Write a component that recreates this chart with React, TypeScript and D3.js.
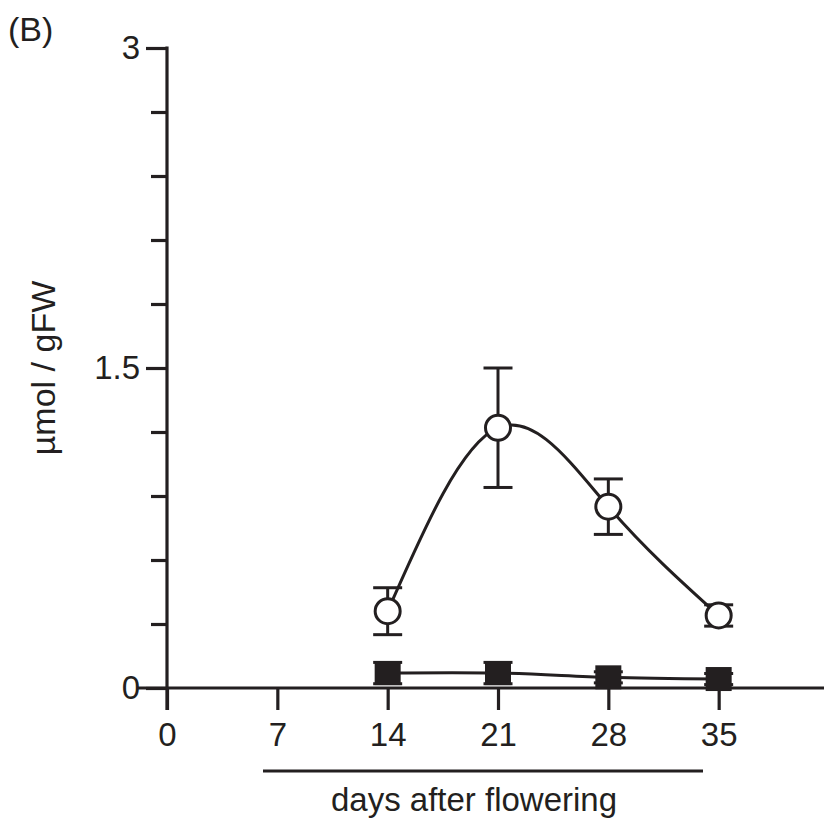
import React, { useEffect, useRef } from 'react';
import * as d3 from 'd3';

const days = [14, 21, 28, 35];
const xTickValues = [0, 7, 14, 21, 28, 35];
const openMean = [0.36, 1.22, 0.85, 0.34];
const openErr = [0.11, 0.28, 0.13, 0.05];
const filledMean = [0.07, 0.07, 0.05, 0.042];
const filledErr = [0.05, 0.05, 0.026, 0.026];
const yMinorTicks = [0.3, 0.6, 0.9, 1.2, 1.8, 2.1, 2.4, 2.7];
const yMajorTicks = [0, 1.5, 3];

const INK = '#231f20';
const FONT = '"Liberation Sans", Arial, Helvetica, sans-serif';

const App: React.FC = () => {
  const ref = useRef<SVGSVGElement>(null);

  useEffect(() => {
    if (!ref.current) return;
    const width = 824, height = 820;
    const svg = d3.select(ref.current);
    svg.selectAll('*').remove();
    svg.attr('width', width).attr('height', height);

    const x = d3.scaleLinear().domain([0, 42]).range([167, 829]);
    const y = d3.scaleLinear().domain([0, 3]).range([688, 48]);

    // y axis
    const yMinor = svg.append('g')
      .attr('transform', `translate(${x(0)},0)`)
      .call(d3.axisLeft(y).tickValues(yMinorTicks).tickSize(16).tickFormat(() => ''));
    yMinor.select('.domain').remove();

    const yMajor = svg.append('g')
      .attr('transform', `translate(${x(0)},0)`)
      .call(d3.axisLeft(y).tickValues(yMajorTicks).tickSize(21).tickPadding(6)
        .tickFormat(d => String(d)));
    yMajor.select('.domain').remove();

    svg.append('line')
      .attr('x1', x(0)).attr('x2', x(0))
      .attr('y1', y(3) - 1.5).attr('y2', y(0) + 22)
      .attr('stroke', INK).attr('stroke-width', 3.2);

    // x axis
    const xAxis = svg.append('g')
      .attr('transform', `translate(0,${y(0)})`)
      .call(d3.axisBottom(x).tickValues(xTickValues).tickSize(22).tickPadding(12.5)
        .tickFormat(d => String(d)));
    xAxis.select('.domain').remove();
    svg.append('line')
      .attr('x1', x(0) - 30).attr('x2', width)
      .attr('y1', y(0)).attr('y2', y(0))
      .attr('stroke', INK).attr('stroke-width', 3.2);

    svg.selectAll('.tick line').attr('stroke', INK).attr('stroke-width', 3.2);
    svg.selectAll('.tick text')
      .attr('fill', INK)
      .style('font-family', FONT)
      .style('font-size', '33px');

    // curves
    const line = d3.line<number>()
      .x((_, i) => x(days[i]))
      .y(d => y(d))
      .curve(d3.curveNatural);

    svg.append('path').attr('d', line(openMean) ?? '')
      .attr('fill', 'none').attr('stroke', INK).attr('stroke-width', 3);
    svg.append('path').attr('d', line(filledMean) ?? '')
      .attr('fill', 'none').attr('stroke', INK).attr('stroke-width', 3);

    // error bars
    const errBars = (mean: number[], err: number[]) => {
      const g = svg.append('g').attr('stroke', INK).attr('stroke-width', 3);
      mean.forEach((m, i) => {
        const cx = x(days[i]);
        g.append('line').attr('x1', cx).attr('x2', cx)
          .attr('y1', y(m + err[i])).attr('y2', y(m - err[i]));
        [m + err[i], m - err[i]].forEach(v => {
          g.append('line').attr('x1', cx - 14.5).attr('x2', cx + 14.5)
            .attr('y1', y(v)).attr('y2', y(v));
        });
      });
    };
    errBars(openMean, openErr);
    errBars(filledMean, filledErr);

    // markers
    svg.append('g').selectAll('circle')
      .data(openMean)
      .enter()
      .append('circle')
      .attr('cx', (_, i) => x(days[i]))
      .attr('cy', d => y(d))
      .attr('r', 12.5)
      .attr('fill', '#fff')
      .attr('stroke', INK)
      .attr('stroke-width', 3);

    svg.append('g').selectAll('rect')
      .data(filledMean)
      .enter()
      .append('rect')
      .attr('x', (_, i) => x(days[i]) - 13)
      .attr('y', d => y(d) - 12)
      .attr('width', 26)
      .attr('height', 24)
      .attr('fill', INK);

    // bracket under x labels
    svg.append('line')
      .attr('x1', 263).attr('x2', 703)
      .attr('y1', 771).attr('y2', 771)
      .attr('stroke', INK).attr('stroke-width', 3);

    svg.append('text')
      .attr('x', 474).attr('y', 811)
      .attr('text-anchor', 'middle')
      .attr('fill', INK)
      .style('font-family', FONT).style('font-size', '33px')
      .text('days after flowering');

    svg.append('text')
      .attr('transform', `translate(55,${y(1.5)}) rotate(-90)`)
      .attr('text-anchor', 'middle')
      .attr('fill', INK)
      .style('font-family', FONT).style('font-size', '34px')
      .text('µmol / gFW');

    svg.append('text')
      .attr('x', 8).attr('y', 41)
      .attr('fill', INK)
      .style('font-family', FONT).style('font-size', '34px')
      .text('(B)');
  }, []);

  return (
    <svg ref={ref} style={{ position: 'absolute', left: 0, top: 0 }} />
  );
};

export default App;
